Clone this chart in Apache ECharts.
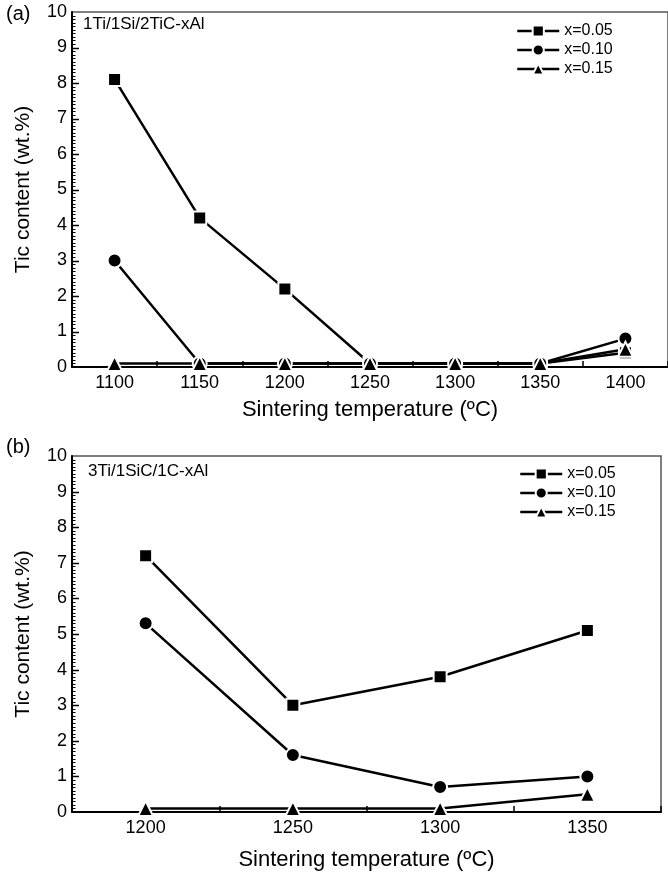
<!DOCTYPE html>
<html>
<head>
<meta charset="utf-8">
<script src="https://cdn.jsdelivr.net/npm/echarts@6/dist/echarts.min.js"></script>
<style>
  html, body { margin: 0; padding: 0; background: #fff; }
  #main { width: 668px; height: 876px; }
</style>
</head>
<body>
<div id="main"></div>
<script>
// panel (a): 1Ti/1Si/2TiC-xAl
const tempsA = ['1100', '1150', '1200', '1250', '1300', '1350', '1400'];
const a005 = [8.1, 4.2, 2.2, 0.1, 0.1, 0.1, 0.4];
const a010 = [3.0, 0.1, 0.1, 0.1, 0.1, 0.1, 0.8];
const a015 = [0.1, 0.1, 0.1, 0.1, 0.1, 0.1, 0.5];

// panel (b): 3Ti/1SiC/1C-xAl
const tempsB = ['1200', '1250', '1300', '1350'];
const b005 = [7.2, 3.0, 3.8, 5.1];
const b010 = [5.3, 1.6, 0.7, 1.0];
const b015 = [0.1, 0.1, 0.1, 0.5];

const names = ['x=0.05', 'x=0.10', 'x=0.15'];
const symbols = ['rect', 'circle', 'triangle'];
const sizes = [13, 14, 15];

const font = 'Liberation Sans, Arial, sans-serif';
// panel (a) runs past the right edge of the picture, as in the original figure
const grids = [
  { left: 72, top: 12, width: 600, height: 355 },
  { left: 72, top: 456, width: 589, height: 356 }
];

function xAxis(grid, data, gap) {
  return {
    type: 'category',
    gridIndex: grid,
    data: data,
    boundaryGap: true,
    axisLine: { lineStyle: { color: '#000', width: 2 } },
    axisTick: { show: true, inside: true, length: 6, lineStyle: { color: '#000', width: 1.5 } },
    axisLabel: { fontSize: 18, color: '#000', margin: 7, fontFamily: font },
    name: 'Sintering temperature (ºC)',
    nameLocation: 'middle',
    nameGap: gap,
    nameTextStyle: { fontSize: 22, color: '#000', fontFamily: font }
  };
}

function yAxis(grid) {
  return {
    type: 'value',
    gridIndex: grid,
    min: 0,
    max: 10,
    interval: 1,
    axisLine: { show: true, lineStyle: { color: '#000', width: 2 } },
    axisTick: { show: false },
    splitLine: { show: false },
    axisLabel: { fontSize: 18, color: '#000', margin: 5, fontFamily: font },
    name: 'Tic content (wt.%)',
    nameLocation: 'middle',
    nameGap: 38,
    nameTextStyle: { fontSize: 21, color: '#000', fontFamily: font }
  };
}

function lineSeries(i, grid, values) {
  return {
    type: 'line',
    name: names[i],
    xAxisIndex: grid,
    yAxisIndex: grid,
    data: values,
    symbol: symbols[i],
    symbolSize: sizes[i],
    lineStyle: { color: '#000', width: 2.5 },
    itemStyle: { color: '#000', borderColor: '#fff', borderWidth: 2 }
  };
}

function legend(left, top) {
  return {
    orient: 'vertical',
    left: left,
    top: top,
    data: names,
    itemWidth: 42,
    itemHeight: 14,
    itemGap: 3,
    selectedMode: false,
    lineStyle: { width: 2.5 },
    textStyle: { fontSize: 16, color: '#000', fontFamily: font }
  };
}

function label(text, x, y, size) {
  return {
    type: 'text',
    left: x,
    top: y,
    style: { text: text, fontSize: size, fill: '#000', fontFamily: font }
  };
}

const texts = [
  label('(a)', 6, 4, 20),
  label('1Ti/1Si/2TiC-xAl', 83, 16, 17),
  label('(b)', 6, 437, 20),
  label('3Ti/1SiC/1C-xAl', 88, 463, 17)
];

const chart = echarts.init(document.getElementById('main'));
chart.setOption({
  animation: false,
  backgroundColor: '#fff',
  grid: grids.map(g => Object.assign({ show: true, borderColor: '#555', borderWidth: 1.5 }, g)),
  xAxis: [xAxis(0, tempsA, 32), xAxis(1, tempsB, 37)],
  yAxis: [yAxis(0), yAxis(1)],
  legend: [legend(511, 18), legend(514, 461)],
  graphic: texts,
  series: [
    lineSeries(0, 0, a005),
    lineSeries(1, 0, a010),
    lineSeries(2, 0, a015),
    lineSeries(0, 1, b005),
    lineSeries(1, 1, b010),
    lineSeries(2, 1, b015)
  ]
});

// inward major and minor ticks on the y axes, placed through the axis scale
const ticks = [];
grids.forEach((g, gi) => {
  for (let k = 1; k < 100; k++) {
    const v = k / 10;
    const y = Math.round(chart.convertToPixel({ yAxisIndex: gi }, v)) + 0.5;
    const len = k % 10 === 0 ? 7 : 3.5;
    ticks.push({
      type: 'line',
      z: 100,
      silent: true,
      shape: { x1: g.left, y1: y, x2: g.left + len, y2: y },
      style: { stroke: '#000', lineWidth: k % 10 === 0 ? 1.5 : 1 }
    });
  }
});
chart.setOption({ graphic: texts.concat(ticks) });
</script>
</body>
</html>
